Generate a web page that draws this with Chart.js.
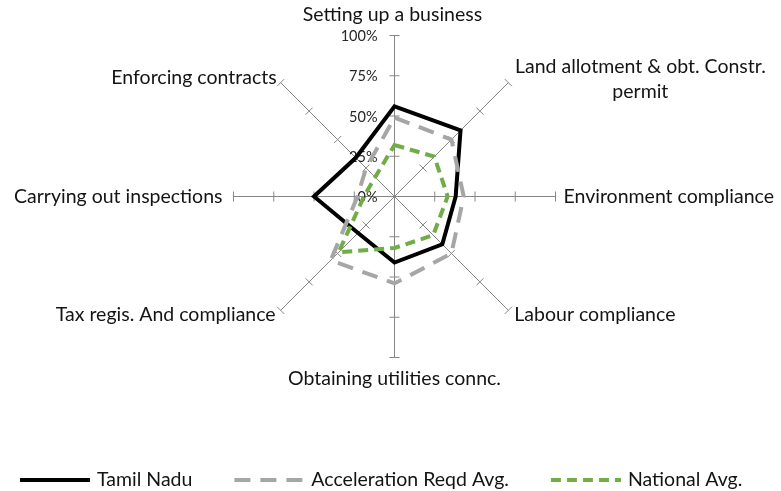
<!DOCTYPE html>
<html>
<head>
<meta charset="utf-8">
<title>Ease of doing business - Tamil Nadu</title>
<script src="https://cdn.jsdelivr.net/npm/chart.js@4.4.1/dist/chart.umd.min.js"></script>
<style>
  body { margin: 0; background: #fff; }
  canvas { display: block; }
</style>
</head>
<body>
<canvas id="myChart" width="781" height="491"></canvas>
<script>
const categories = [
  'Setting up a business',
  ['Land allotment & obt. Constr.', 'permit'],
  'Environment compliance',
  'Labour compliance',
  'Obtaining utilities connc.',
  'Tax regis. And compliance',
  'Carrying out inspections',
  'Enforcing contracts'
];
const tamilNadu = [56, 58, 38, 42, 41, 32, 50, 34];
const accelerationAvg = [49, 50, 43, 50, 54, 56, 23, 25];
const nationalAvg = [32, 35, 33, 34, 32, 49, 19, 17];
const tickValues = [0, 25, 50, 75, 100];
const tickLabels = ['0%', '25%', '50%', '75%', '100%'];

const FONT = 'Lato, "DejaVu Sans", sans-serif';
const AXIS_GREY = '#868686';

// where each category label sits relative to the end of its spoke
const labelPlacement = [
  { dx: -2, dy: -21, align: 'center' },
  { dx: 132, dy: -16, align: 'center' },
  { dx: 8, dy: 0, align: 'left' },
  { dx: 6, dy: 4, align: 'left' },
  { dx: 0, dy: 21, align: 'center' },
  { dx: -5, dy: 4, align: 'right' },
  { dx: -11, dy: 0, align: 'right' },
  { dx: -4, dy: -5, align: 'right' }
];

// small cross marks on every spoke + the % labels on the top spoke
const spokeTicks = {
  id: 'spokeTicks',
  beforeDatasetsDraw(chart) {
    const scale = chart.scales.r;
    const ctx = chart.ctx;
    ctx.save();
    ctx.strokeStyle = AXIS_GREY;
    ctx.lineWidth = 1;
    for (let i = 0; i < categories.length; i++) {
      const a = scale.getIndexAngle(i) - Math.PI / 2;
      const px = -Math.sin(a), py = Math.cos(a);
      tickValues.forEach(v => {
        if (v === 0) return;
        const p = scale.getPointPosition(i, scale.getDistanceFromCenterForValue(v));
        ctx.beginPath();
        ctx.moveTo(p.x - px * 5, p.y - py * 5);
        ctx.lineTo(p.x + px * 5, p.y + py * 5);
        ctx.stroke();
      });
    }
    ctx.fillStyle = '#262626';
    ctx.font = '14.5px ' + FONT;
    ctx.textAlign = 'right';
    ctx.textBaseline = 'middle';
    tickValues.forEach((v, k) => {
      const p = scale.getPointPosition(0, scale.getDistanceFromCenterForValue(v));
      ctx.fillText(tickLabels[k], p.x - 17, p.y + 1);
    });
    ctx.restore();
  }
};

const categoryLabels = {
  id: 'categoryLabels',
  afterDraw(chart) {
    const scale = chart.scales.r;
    const ctx = chart.ctx;
    ctx.save();
    ctx.fillStyle = '#141414';
    ctx.font = '19.5px ' + FONT;
    ctx.textBaseline = 'middle';
    categories.forEach((label, i) => {
      const end = scale.getPointPosition(i, scale.drawingArea);
      const pl = labelPlacement[i];
      const lines = Array.isArray(label) ? label : [label];
      ctx.textAlign = pl.align;
      lines.forEach((line, j) => {
        ctx.fillText(line, end.x + pl.dx, end.y + pl.dy + j * 25);
      });
    });
    ctx.restore();
  }
};

// bottom legend: line sample + name for each dataset, in dataset order
const lineLegend = {
  id: 'lineLegend',
  afterDraw(chart) {
    const ctx = chart.ctx;
    const y = 480;
    let x = 20;
    ctx.save();
    ctx.font = '19.5px ' + FONT;
    ctx.textBaseline = 'middle';
    ctx.textAlign = 'left';
    chart.data.datasets.forEach(ds => {
      ctx.strokeStyle = ds.borderColor;
      ctx.lineWidth = ds.borderWidth;
      ctx.setLineDash(ds.borderDash || []);
      ctx.beginPath();
      ctx.moveTo(x, y);
      ctx.lineTo(x + 70, y);
      ctx.stroke();
      ctx.setLineDash([]);
      ctx.fillStyle = '#141414';
      ctx.fillText(ds.label, x + 77, y);
      x += 77 + ctx.measureText(ds.label).width + 42;
    });
    ctx.restore();
  }
};

const ctx = document.getElementById('myChart').getContext('2d');
new Chart(ctx, {
  type: 'radar',
  data: {
    labels: categories,
    datasets: [
      {
        label: 'Tamil Nadu',
        data: tamilNadu,
        borderColor: '#000000',
        backgroundColor: 'transparent',
        borderWidth: 4,
        borderJoinStyle: 'miter',
        fill: false,
        pointRadius: 0,
        order: 2
      },
      {
        label: 'Acceleration Reqd Avg.',
        data: accelerationAvg,
        borderColor: '#a6a6a6',
        backgroundColor: 'transparent',
        borderWidth: 4,
        borderDash: [16, 10],
        borderJoinStyle: 'miter',
        fill: false,
        pointRadius: 0,
        order: 1
      },
      {
        label: 'National Avg.',
        data: nationalAvg,
        borderColor: '#70ad47',
        backgroundColor: 'transparent',
        borderWidth: 4,
        borderDash: [10, 6],
        borderJoinStyle: 'miter',
        fill: false,
        pointRadius: 0,
        order: 0
      }
    ]
  },
  options: {
    responsive: false,
    animation: false,
    plugins: {
      tooltip: { enabled: false },
      legend: { display: false }
    },
    scales: {
      r: {
        min: 0,
        max: 100,
        ticks: { stepSize: 25, display: false },
        grid: { display: false },
        angleLines: { display: true, color: AXIS_GREY, lineWidth: 1 },
        pointLabels: { display: false },
        afterFit: (scale) => {
          // pin the plot to the reference geometry
          scale.xCenter = 394.5;
          scale.yCenter = 196.5;
          scale.drawingArea = 161;
        }
      }
    }
  },
  plugins: [spokeTicks, categoryLabels, lineLegend]
});
</script>
</body>
</html>
